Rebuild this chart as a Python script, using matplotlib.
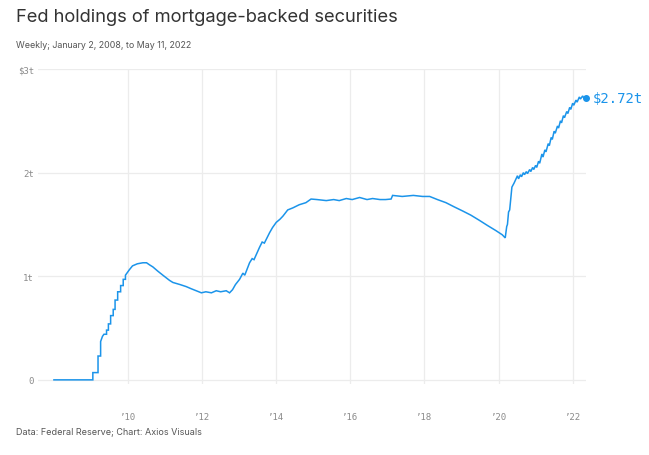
import matplotlib
matplotlib.use('Agg')
import matplotlib.pyplot as plt

# DADOS (em trilhões de dólares)

anos = [
    2008.00, 2009.05, 2009.05, 2009.19, 2009.19, 2009.26, 2009.26, 2009.31,
    2009.35, 2009.42, 2009.42, 2009.47, 2009.47, 2009.53, 2009.53, 2009.60,
    2009.60, 2009.65, 2009.65, 2009.72, 2009.72, 2009.80, 2009.80, 2009.87,
    2009.87, 2009.93, 2009.93, 2010.03, 2010.12, 2010.25, 2010.40, 2010.50,
    2010.58, 2010.67, 2010.80, 2010.94, 2011.12, 2011.21, 2011.40, 2011.57,
    2011.70, 2011.84, 2011.98, 2012.10, 2012.25, 2012.38, 2012.50, 2012.65,
    2012.74, 2012.82, 2012.90, 2013.01, 2013.10, 2013.15, 2013.28, 2013.35,
    2013.40, 2013.55, 2013.62, 2013.68, 2013.82, 2013.90, 2014.00, 2014.10,
    2014.18, 2014.31, 2014.45, 2014.62, 2014.80, 2014.94, 2015.10, 2015.35,
    2015.55, 2015.70, 2015.89, 2016.05, 2016.25, 2016.45, 2016.60, 2016.80,
    2016.95, 2017.10, 2017.14, 2017.40, 2017.70, 2017.95, 2018.14, 2018.35,
    2018.58, 2018.80, 2019.03, 2019.25, 2019.48, 2019.70, 2019.93, 2020.10,
    2020.18, 2020.22, 2020.24, 2020.27, 2020.30, 2020.36, 2020.42, 2020.47,
    2020.51, 2020.54, 2020.59, 2020.62, 2020.67, 2020.70, 2020.75, 2020.78,
    2020.84, 2020.87, 2020.92, 2020.95, 2021.00, 2021.03, 2021.08, 2021.11,
    2021.17, 2021.20, 2021.25, 2021.28, 2021.34, 2021.37, 2021.42, 2021.45,
    2021.50, 2021.53, 2021.59, 2021.62, 2021.67, 2021.70, 2021.75, 2021.78,
    2021.84, 2021.87, 2021.92, 2021.95, 2022.00, 2022.03, 2022.09, 2022.12,
    2022.18, 2022.21, 2022.27, 2022.30, 2022.36
]

mbs = [
    0.00, 0.00, 0.07, 0.07, 0.23, 0.23, 0.37, 0.42,
    0.44, 0.44, 0.48, 0.48, 0.54, 0.54, 0.62, 0.62,
    0.68, 0.68, 0.77, 0.77, 0.85, 0.85, 0.91, 0.91,
    0.97, 0.97, 1.01, 1.06, 1.10, 1.12, 1.13, 1.13,
    1.11, 1.09, 1.05, 1.01, 0.96, 0.94, 0.92, 0.90,
    0.88, 0.86, 0.84, 0.85, 0.84, 0.86, 0.85, 0.86,
    0.84, 0.87, 0.92, 0.97, 1.03, 1.01, 1.13, 1.17,
    1.16, 1.28, 1.33, 1.32, 1.42, 1.47, 1.52, 1.55,
    1.58, 1.64, 1.66, 1.69, 1.71, 1.745, 1.74, 1.73,
    1.74, 1.73, 1.75, 1.74, 1.76, 1.74, 1.75, 1.74,
    1.74, 1.745, 1.78, 1.77, 1.78, 1.77, 1.77, 1.74,
    1.71, 1.67, 1.63, 1.59, 1.54, 1.49, 1.44, 1.40,
    1.37, 1.48, 1.50, 1.62, 1.64, 1.86, 1.90, 1.94,
    1.97, 1.94, 1.98, 1.96, 2.00, 1.98, 2.01, 1.99,
    2.03, 2.01, 2.05, 2.03, 2.07, 2.05, 2.11, 2.09,
    2.18, 2.15, 2.22, 2.20, 2.28, 2.26, 2.34, 2.32,
    2.40, 2.38, 2.45, 2.43, 2.50, 2.48, 2.55, 2.53,
    2.59, 2.57, 2.63, 2.61, 2.67, 2.65, 2.70, 2.68,
    2.73, 2.71, 2.74, 2.72, 2.72
]

anos_ticks = [2010, 2012, 2014, 2016, 2018, 2020, 2022]
rotulos_x = ["\u201910", "\u201912", "\u201914", "\u201916", "\u201918", "\u201920", "\u201922"]
valores_y = [0, 1, 2, 3]
rotulos_y = ["0", "1t", "2t", "$3t"]

AZUL = '#1b94ea'
CINZA_GRADE = '#ececec'
CINZA_TEXTO = '#8a8a8a'

# FIGURA

fig = plt.figure(figsize=(6.49, 4.56), dpi=100)
ax = fig.add_axes([38 / 649, 1 - 385 / 456, (586 - 38) / 649, (385 - 70) / 456])

ax.plot(anos, mbs, color=AZUL, linewidth=1.1, solid_joinstyle='miter')
ax.plot(anos[-1], mbs[-1], 'o', color=AZUL, markersize=4, clip_on=False)
ax.text(anos[-1] + 0.18, mbs[-1], f'${mbs[-1]:.2f}t', color=AZUL,
        fontsize=10, family='DejaVu Sans Mono', va='center', ha='left')

ax.set_xlim(2007.57, 2022.36)
ax.set_ylim(-0.04, 3.0)

ax.set_xticks(anos_ticks)
ax.set_xticklabels(rotulos_x)
ax.set_yticks(valores_y)
ax.set_yticklabels(rotulos_y)

ax.tick_params(axis='both', length=0, labelsize=6.5, labelcolor=CINZA_TEXTO)
ax.tick_params(axis='x', pad=20)
ax.tick_params(axis='y', pad=3)
for lbl in ax.get_xticklabels() + ax.get_yticklabels():
    lbl.set_family('DejaVu Sans Mono')

ax.grid(True, color=CINZA_GRADE, linewidth=0.9)
ax.set_axisbelow(True)
for lado in ax.spines.values():
    lado.set_visible(False)

# TEXTOS

fig.text(16 / 649, 1 - 18 / 456, 'Fed holdings of mortgage-backed securities',
         fontsize=13.2, family='Inter', color='#333333',
         va='center', ha='left')
fig.text(16 / 649, 1 - 45 / 456, 'Weekly; January 2, 2008, to May 11, 2022',
         fontsize=6.4, family='Inter', color='#555555', va='center', ha='left')
fig.text(16 / 649, 1 - 433 / 456, 'Data: Federal Reserve; Chart: Axios Visuals',
         fontsize=6.5, family='Inter', color='#555555', va='center', ha='left')

fig.savefig('out.png', dpi=100, facecolor='white')
